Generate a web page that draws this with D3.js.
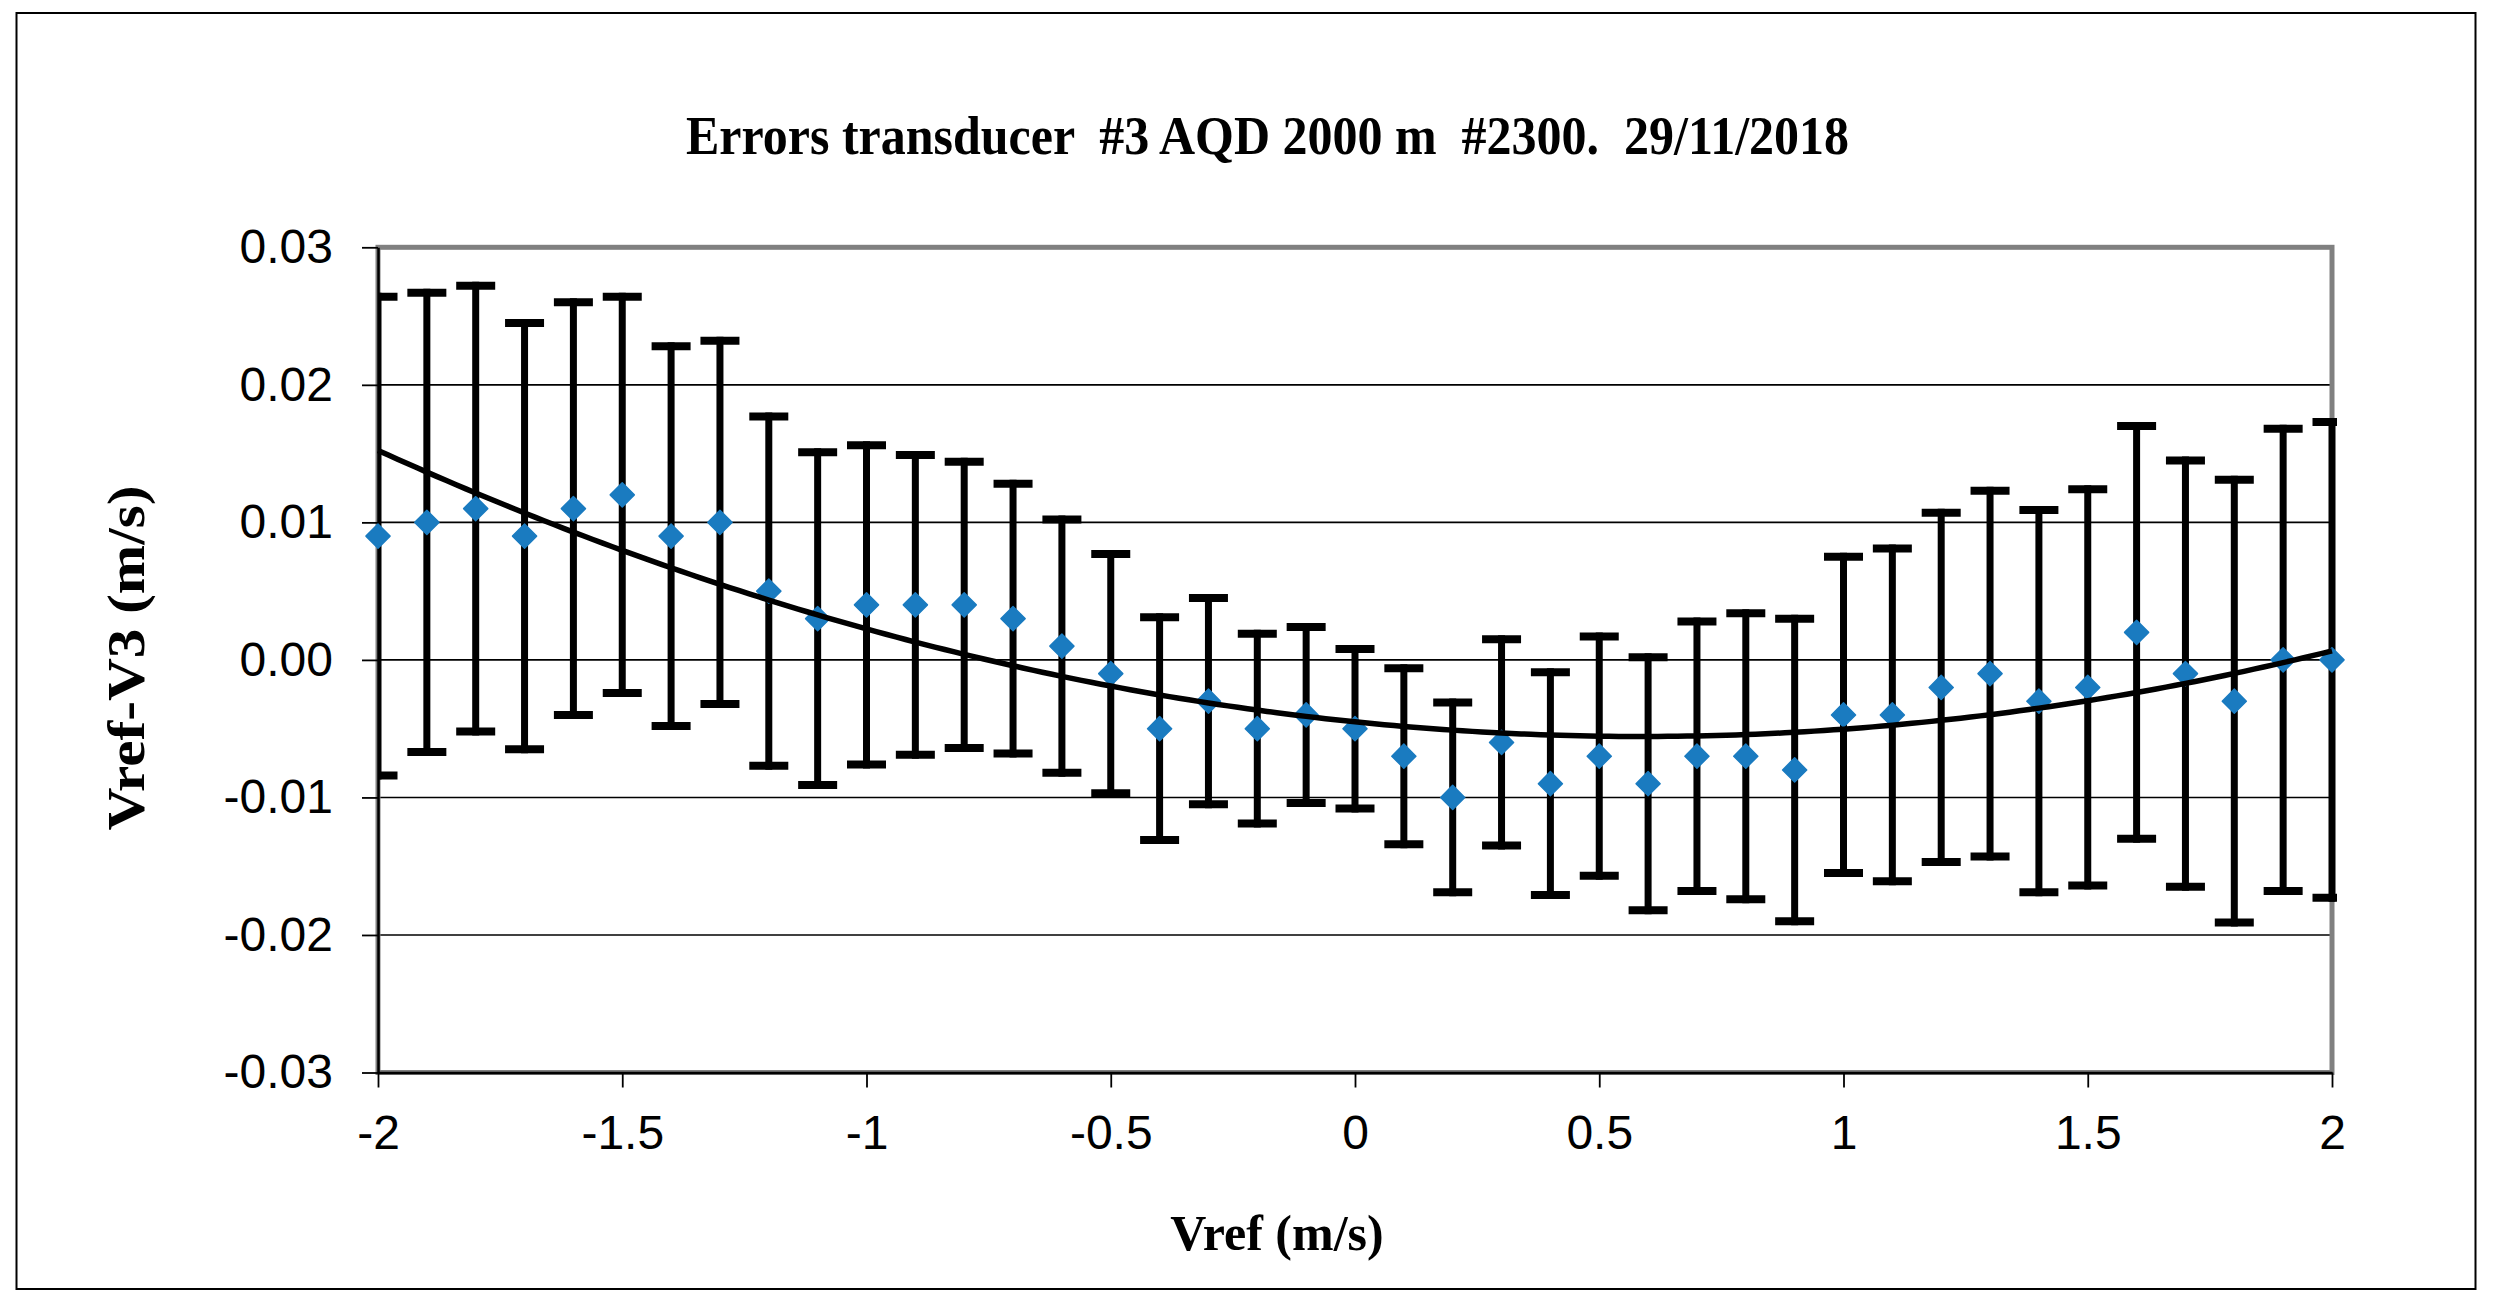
<!DOCTYPE html>
<html>
<head>
<meta charset="utf-8">
<script src="https://cdn.jsdelivr.net/npm/d3@7"></script>
<style>
  html, body { margin: 0; padding: 0; background: #fff; }
  svg { display: block; }
</style>
</head>
<body>
<script>
// ---------------- data ----------------
const vref = [-2.0, -1.9, -1.8, -1.7, -1.6, -1.5, -1.4, -1.3, -1.2, -1.1,
              -1.0, -0.9, -0.8, -0.7, -0.6, -0.5, -0.4, -0.3, -0.2, -0.1,
               0.0,  0.1,  0.2,  0.3,  0.4,  0.5,  0.6,  0.7,  0.8,  0.9,
               1.0,  1.1,  1.2,  1.3,  1.4,  1.5,  1.6,  1.7,  1.8,  1.9, 2.0];
const errorV3 = [0.009, 0.010, 0.011, 0.009, 0.011, 0.012, 0.009, 0.010, 0.005, 0.003,
                 0.004, 0.004, 0.004, 0.003, 0.001, -0.001, -0.005, -0.003, -0.005, -0.004,
                -0.005, -0.007, -0.010, -0.006, -0.009, -0.007, -0.009, -0.007, -0.007, -0.008,
                -0.004, -0.004, -0.002, -0.001, -0.003, -0.002, 0.002, -0.001, -0.003, 0.000, 0.000];
const errorBar = [0.0174, 0.0167, 0.0162, 0.0155, 0.0150, 0.0144, 0.0138, 0.0132, 0.0127, 0.0121,
                  0.0116, 0.0109, 0.0104, 0.0098, 0.0092, 0.0087, 0.0081, 0.0075, 0.0069, 0.0064,
                  0.0058, 0.0064, 0.0069, 0.0075, 0.0081, 0.0087, 0.0092, 0.0098, 0.0104, 0.0110,
                  0.0115, 0.0121, 0.0127, 0.0133, 0.0139, 0.0144, 0.0150, 0.0155, 0.0161, 0.0168, 0.0173];
const xTicks = [-2, -1.5, -1, -0.5, 0, 0.5, 1, 1.5, 2];
const xTickLabels = ["-2", "-1.5", "-1", "-0.5", "0", "0.5", "1", "1.5", "2"];
const yTicks = [-0.03, -0.02, -0.01, 0, 0.01, 0.02, 0.03];
const yTickLabels = ["-0.03", "-0.02", "-0.01", "0.00", "0.01", "0.02", "0.03"];
const gridValues = [-0.02, -0.01, 0, 0.01, 0.02];
const titleText = "Errors transducer  #3 AQD 2000 m  #2300.  29/11/2018";
const xTitle = "Vref (m/s)";
const yTitle = "Vref-V3 (m/s)";

// ---------------- layout ----------------
const W = 2499, H = 1313;
const L = 378, R = 2332, T = 247.3, B = 1072.5;
const sans = "'Liberation Sans', Arial, sans-serif";
const serif = "'Liberation Serif', 'Times New Roman', serif";

const svg = d3.select("body").append("svg")
  .attr("width", W).attr("height", H)
  .attr("viewBox", `0 0 ${W} ${H}`);

svg.append("rect").attr("width", W).attr("height", H).attr("fill", "#fff");

// outer frame
svg.append("rect")
  .attr("x", 16.5).attr("y", 13).attr("width", 2459).attr("height", 1276)
  .attr("fill", "none").attr("stroke", "#000").attr("stroke-width", 2);

const x = d3.scaleLinear().domain([-2, 2]).range([L, R]);
const y = d3.scaleLinear().domain([-0.03, 0.03]).range([B, T]);

// gridlines
svg.append("g").selectAll("line").data(gridValues).join("line")
  .attr("x1", L).attr("x2", R)
  .attr("y1", d => y(d)).attr("y2", d => y(d))
  .attr("stroke", "#000").attr("stroke-width", 1.6);

// plot area border (gray)
svg.append("rect")
  .attr("x", L).attr("y", T).attr("width", R - L).attr("height", B - T)
  .attr("fill", "none").attr("stroke", "#808080").attr("stroke-width", 5);

// axes
const yAxis = d3.axisLeft(y).tickValues(yTicks)
  .tickFormat((d, i) => yTickLabels[i]).tickSizeInner(16).tickSizeOuter(0).tickPadding(29);
const gy = svg.append("g").attr("transform", `translate(${L},0)`).call(yAxis);
const xAxis = d3.axisBottom(x).tickValues(xTicks)
  .tickFormat((d, i) => xTickLabels[i]).tickSizeInner(15).tickSizeOuter(0).tickPadding(27);
const gx = svg.append("g").attr("transform", `translate(0,${B})`).call(xAxis);

[gx, gy].forEach(g => {
  g.select(".domain").attr("stroke", "#000").attr("stroke-width", 2.5);
  g.selectAll(".tick line").attr("stroke", "#000").attr("stroke-width", 1.8);
  g.selectAll(".tick text").attr("fill", "#000")
    .style("font-family", sans).style("font-size", "48px");
});

// clip for error bars
svg.append("clipPath").attr("id", "plotclip").append("rect")
  .attr("x", L).attr("y", 0).attr("width", R - L + 5).attr("height", H);

const pts = vref.map((v, i) => ({ x: v, y: errorV3[i], e: errorBar[i] }));

const eb = svg.append("g").attr("clip-path", "url(#plotclip)");
eb.selectAll("line.stem").data(pts).join("line").attr("class", "stem")
  .attr("x1", d => x(d.x)).attr("x2", d => x(d.x))
  .attr("y1", d => y(d.y + d.e) - 4).attr("y2", d => y(d.y - d.e) + 4)
  .attr("stroke", "#000").attr("stroke-width", 7);
eb.selectAll("line.capT").data(pts).join("line").attr("class", "capT")
  .attr("x1", d => x(d.x) - 19.5).attr("x2", d => x(d.x) + 19.5)
  .attr("y1", d => y(d.y + d.e)).attr("y2", d => y(d.y + d.e))
  .attr("stroke", "#000").attr("stroke-width", 8);
eb.selectAll("line.capB").data(pts).join("line").attr("class", "capB")
  .attr("x1", d => x(d.x) - 19.5).attr("x2", d => x(d.x) + 19.5)
  .attr("y1", d => y(d.y - d.e)).attr("y2", d => y(d.y - d.e))
  .attr("stroke", "#000").attr("stroke-width", 8);

// markers (diamonds)
const diamond = d3.symbol().type(d3.symbolSquare).size(290);
svg.append("g").selectAll("path").data(pts).join("path")
  .attr("d", diamond)
  .attr("transform", d => `translate(${x(d.x)},${y(d.y)}) rotate(45)`)
  .attr("fill", "#1a7bc0")
  .attr("stroke", "#1a7bc0").attr("stroke-width", 1.5).attr("stroke-linejoin", "round");

// polynomial (2nd order) least-squares trend line computed from the data
function polyfit2(xs, ys) {
  let n = xs.length, s1 = 0, s2 = 0, s3 = 0, s4 = 0, t0 = 0, t1 = 0, t2 = 0;
  for (let i = 0; i < n; i++) {
    const a = xs[i], b = ys[i];
    s1 += a; s2 += a * a; s3 += a * a * a; s4 += a * a * a * a;
    t0 += b; t1 += a * b; t2 += a * a * b;
  }
  const M = [[n, s1, s2, t0], [s1, s2, s3, t1], [s2, s3, s4, t2]];
  for (let c = 0; c < 3; c++) {
    for (let r = c + 1; r < 3; r++) {
      const f = M[r][c] / M[c][c];
      for (let k = c; k < 4; k++) M[r][k] -= f * M[c][k];
    }
  }
  const res = [0, 0, 0];
  for (let r = 2; r >= 0; r--) {
    let s = M[r][3];
    for (let k = r + 1; k < 3; k++) s -= M[r][k] * res[k];
    res[r] = s / M[r][r];
  }
  return res;
}
const coef = polyfit2(vref, errorV3);
const trendX = d3.range(0, 201).map(i => -2 + i * 0.02);
const trend = trendX.map(v => ({ x: v, y: coef[0] + coef[1] * v + coef[2] * v * v }));
svg.append("path").datum(trend)
  .attr("d", d3.line().x(d => x(d.x)).y(d => y(d.y)))
  .attr("fill", "none").attr("stroke", "#000").attr("stroke-width", 5.5);

// titles
svg.append("text")
  .attr("x", 1267.5).attr("y", 154)
  .attr("text-anchor", "middle")
  .attr("xml:space", "preserve")
  .style("white-space", "pre")
  .attr("textLength", 1163).attr("lengthAdjust", "spacingAndGlyphs")
  .style("font-family", serif).style("font-weight", "bold").style("font-size", "54px")
  .text(titleText);

svg.append("text")
  .attr("x", 1277).attr("y", 1250)
  .attr("text-anchor", "middle")
  .style("font-family", serif).style("font-weight", "bold").style("font-size", "50px")
  .text(xTitle);

svg.append("text")
  .attr("transform", "translate(144,658) rotate(-90)")
  .attr("text-anchor", "middle")
  .attr("textLength", 345).attr("lengthAdjust", "spacingAndGlyphs")
  .style("font-family", serif).style("font-weight", "bold").style("font-size", "52px")
  .text(yTitle);
</script>
</body>
</html>
